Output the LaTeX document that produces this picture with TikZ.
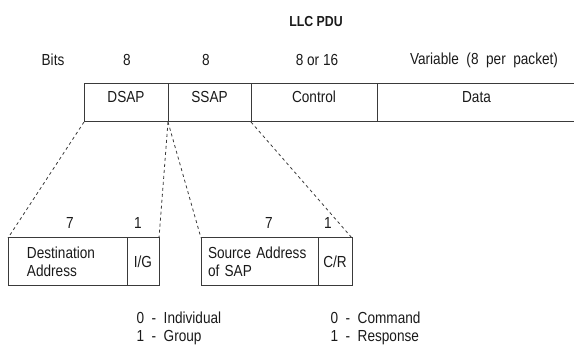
\documentclass[tikz,border=0pt]{standalone}
\usepackage{fontspec}
\setmainfont[FakeStretch=0.85]{Liberation Sans}
\usetikzlibrary{positioning}
\definecolor{rule}{HTML}{3A3A3A}
\definecolor{ink}{HTML}{1A1A1A}

\begin{document}
\begin{tikzpicture}[x=1pt, y=1pt,
  every node/.style={text=ink, font=\fontsize{16}{18}\selectfont},
  hdr/.style={font=\fontsize{14.5}{16}\selectfont\bfseries},
  field/.style={draw=rule, line width=1pt, minimum height=38pt, inner sep=0pt, outer sep=0pt, text height=19pt, text depth=19pt},
  subfield/.style={draw=rule, line width=1pt, minimum height=48pt, inner sep=0pt, outer sep=0pt},
  zoomline/.style={rule, line width=0.8pt, dash pattern=on 3pt off 3pt},
]
\useasboundingbox (0,0) rectangle (574,345);

% title and bit counts
\node[hdr] (pdu) at (316,323) {LLC PDU};
\node (bits) at (53,285) {Bits};
\node (wdsap) at (127,285) {8};
\node (wssap) at (206,285) {8};
\node (wctrl) at (317,285) {8 or 16};
\node (wdata) at (484,285) {Variable \ (8 \ per \ packet)};

% PDU fields
\node[field, minimum width=84pt, anchor=south west] (dsap) at (84,223) {DSAP};
\node[field, minimum width=83pt, right=0pt of dsap] (ssap) {SSAP};
\node[field, minimum width=126pt, right=0pt of ssap] (ctrl) {Control};
\node[field, minimum width=199pt, right=0pt of ctrl] (data) {Data};

% address bytes
\node[subfield, minimum width=119pt, text width=81pt, align=left, anchor=south west] (dest) at (8,59) {Destination\\Address};
\node[subfield, minimum width=32pt, right=0pt of dest] (ig) {I/G};
\node[subfield, minimum width=117pt, text width=103pt, align=left, anchor=south west] (src) at (201,59) {Source Address\\of SAP};
\node[subfield, minimum width=34pt, right=0pt of src] (cr) {C/R};

\node (wdest) at (70,122) {7};
\node (wig) at (138,122) {1};
\node (wsrc) at (269,122) {7};
\node (wcr) at (328,122) {1};

% zoom-in lines
\draw[zoomline] (dsap.south west) -- (dest.north west);
\draw[zoomline] (dsap.south east) -- (ig.north east);
\draw[zoomline] (ssap.south west) -- (src.north west);
\draw[zoomline] (ssap.south east) -- (cr.north east);

% bit meanings
\node[anchor=west] (ig0) at (133,27) {0 \ - \ Individual};
\node[anchor=west] (ig1) at (133,7) {1 \ - \ Group};
\node[anchor=west] (cr0) at (327,27) {0 \ - \ Command};
\node[anchor=west] (cr1) at (327,7) {1 \ - \ Response};

\end{tikzpicture}
\end{document}
